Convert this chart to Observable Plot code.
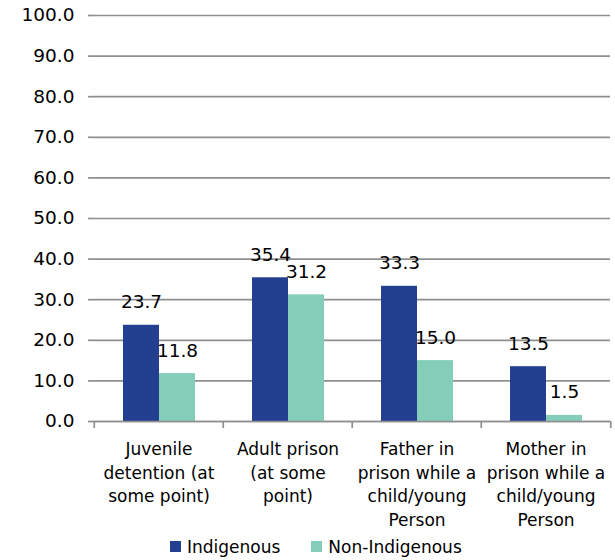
<!DOCTYPE html>
<html>
<head>
<meta charset="utf-8">
<script src="https://cdn.jsdelivr.net/npm/d3@7"></script>
<script src="https://cdn.jsdelivr.net/npm/@observablehq/plot@0.6"></script>
<style>
  body { margin: 0; background: #fff; font-family: "DejaVu Sans", sans-serif; }
  #chart { width: 615px; }
  .lg-swatches { font-family: "DejaVu Sans", sans-serif !important; font-size: 17px !important; color: #000 !important; padding-left: 170px; margin: 0 !important; }
  .lg-swatch { margin-right: 31px !important; }
  .lg-swatch > svg { margin-right: 6px !important; }
</style>
</head>
<body>
<div id="chart"></div>
<script>
// Shares of respondents with a history of incarceration, by group
const categories = [
  "Juvenile detention (at some point)",
  "Adult prison (at some point)",
  "Father in prison while a child/young Person",
  "Mother in prison while a child/young Person"
];
const categoryLabels = [
  "Juvenile\ndetention (at\nsome point)",
  "Adult prison\n(at some\npoint)",
  "Father in\nprison while a\nchild/young\nPerson",
  "Mother in\nprison while a\nchild/young\nPerson"
];
const series = ["Indigenous", "Non-Indigenous"];
const indigenous = [23.7, 35.4, 33.3, 13.5];
const nonIndigenous = [11.8, 31.2, 15.0, 1.5];
const yTicks = [0, 10, 20, 30, 40, 50, 60, 70, 80, 90, 100];
const seriesColors = ["#233f8f", "#84cdb9"];

const rows = categories.flatMap((c, i) => [
  {category: c, series: series[0], value: indigenous[i]},
  {category: c, series: series[1], value: nonIndigenous[i]}
]);
const labelOf = new Map(categories.map((c, i) => [c, categoryLabels[i]]));

const width = 615, marginLeft = 93, marginRight = 4;
const band = (width - marginLeft - marginRight) / categories.length;
const gray = "#8f8f8f";
const lineWidth = 1.7;
const font = "DejaVu Sans, sans-serif";

const chart = Plot.plot({
  width,
  height: 530,
  marginLeft, marginRight,
  marginTop: 15,
  marginBottom: 109,
  style: {fontFamily: font, fontSize: "17px", color: "#000", background: "#fff", overflow: "visible"},
  fx: {domain: categories, paddingInner: 0, paddingOuter: 0, label: null},
  x: {domain: series, paddingInner: 0, paddingOuter: 0.77, axis: null},
  y: {domain: [0, 100], label: null},
  color: {domain: series, range: seriesColors},
  marks: [
    Plot.gridY(yTicks, {stroke: gray, strokeOpacity: 1, strokeWidth: lineWidth}),
    Plot.axisY(yTicks, {
      tickSize: 6, tickPadding: 14, stroke: gray, strokeWidth: lineWidth,
      line: true, tickFormat: d => d.toFixed(1), label: null, fontSize: 18.5
    }),
    Plot.barY(rows, {fx: "category", x: "series", y: "value", fill: "series"}),
    Plot.ruleY([0], {stroke: gray, strokeWidth: lineWidth}),
    // category boundary ticks below the baseline
    Plot.axisFx({anchor: "bottom", tickSize: 7, stroke: gray, strokeWidth: lineWidth, dx: -band / 2, tickFormat: () => "", label: null}),
    Plot.axisFx({anchor: "bottom", ticks: [categories[categories.length - 1]], tickSize: 7, stroke: gray, strokeWidth: lineWidth, dx: band / 2, tickFormat: () => "", label: null}),
    Plot.axisFx({anchor: "bottom", tickSize: 0, tickPadding: 17, lineHeight: 1.38, tickFormat: c => labelOf.get(c), label: null, fontSize: 17}),
    Plot.text(rows, {fx: "category", x: "series", y: "value", text: d => d.value.toFixed(1), dy: -23, fontSize: 18.5, fill: "#000"})
  ]
});

const legend = Plot.legend({
  color: {domain: series, range: seriesColors},
  swatchSize: 11,
  className: "lg"
});

const root = document.getElementById("chart");
root.append(chart, legend);
</script>
</body>
</html>
